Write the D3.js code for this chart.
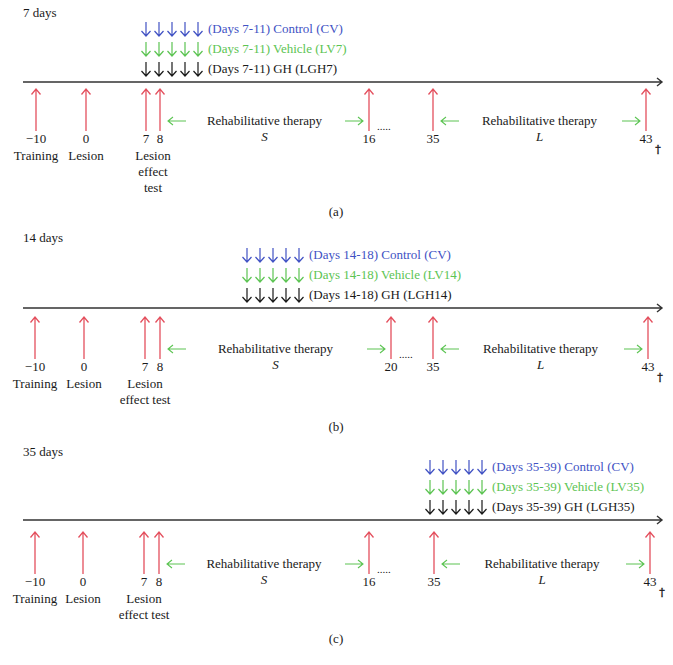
<!DOCTYPE html>
<html>
<head>
<meta charset="utf-8">
<script src="https://cdn.jsdelivr.net/npm/d3@7"></script>
<style>
  body { margin: 0; background: #fff; }
  text { font-family: "Liberation Serif", "DejaVu Serif", serif; font-size: 13px; }
</style>
</head>
<body>
<div id="chart"></div>
<script>
// Timeline data, one entry per panel
const panelTitles = ["7 days", "14 days", "35 days"]
const panelLetters = ["(a)", "(b)", "(c)"]
const eventDays = [
  [-10, 0, 7, 8, 16, 35, 43],
  [-10, 0, 7, 8, 20, 35, 43],
  [-10, 0, 7, 8, 16, 35, 43],
]
const eventNames = ["Training", "Lesion"]
const effectTestLines = [["Lesion", "effect", "test"], ["Lesion", "effect test"], ["Lesion", "effect test"]]
const effectTestDay = [7.5, 7, 7]
const doseDays = [
  [7, 8, 9, 10, 11],
  [14, 15, 16, 17, 18],
  [35, 36, 37, 38, 39],
]
const doseRanges = ["7-11", "14-18", "35-39"]
const groupNames = [
  ["Control (CV)", "Vehicle (LV7)", "GH (LGH7)"],
  ["Control (CV)", "Vehicle (LV14)", "GH (LGH14)"],
  ["Control (CV)", "Vehicle (LV35)", "GH (LGH35)"],
]
const therapyNames = ["S", "L"]
const therapySpans = [
  [[8, 16], [35, 43]],
  [[8, 20], [35, 43]],
  [[8, 16], [35, 43]],
]

// Layout (pixels)
const width = 673,
  height = 665
const red = "#e4505e",
  green = "#5cc452",
  blue = "#4152c4",
  ink = "#1a1a1a"
const groupColors = [blue, green, ink]
const axisY = [82, 308, 520]
const markTop = [89, 317, 532]
const titleY = [17, 242, 456]
const letterY = [216, 431, 643]
const slotX = [
  [36, 86, 146, 160, 369, 433, 646],
  [35, 84, 145, 160, 391, 433, 648],
  [35, 83, 144, 159, 369, 434, 650],
]
const doseX0 = [146, 247, 430]
const rowOffsets = [-49, -29, -9]

const svg = d3.select("#chart").append("svg").attr("width", width).attr("height", height)

// open chevron arrow helpers
function upArrow(g, x, y1, y2, color, w, h) {
  g.append("path")
    .attr("d", `M${x},${y2}V${y1}M${x - w},${y1 + h}L${x},${y1}L${x + w},${y1 + h}`)
    .attr("fill", "none")
    .attr("stroke", color)
    .attr("stroke-width", 1.3)
}

function downArrow(g, x, y1, y2, color) {
  g.append("path")
    .attr("d", `M${x},${y1}V${y2}M${x - 4.5},${y2 - 5}L${x},${y2}L${x + 4.5},${y2 - 5}`)
    .attr("fill", "none")
    .attr("stroke", color)
    .attr("stroke-width", 1.2)
}

function hArrow(g, x1, x2, y, color, sw) {
  const dir = x2 > x1 ? -1 : 1
  g.append("path")
    .attr("d", `M${x1},${y}H${x2}M${x2 + dir * 5},${y - 4}L${x2},${y}L${x2 + dir * 5},${y + 4}`)
    .attr("fill", "none")
    .attr("stroke", color)
    .attr("stroke-width", sw || 1.1)
}

panelTitles.forEach((title, p) => drawPanel(p))

function drawPanel(p) {
  const g = svg.append("g")
  const x = d3.scaleLinear().domain(eventDays[p]).range(slotX[p])
  const y0 = axisY[p],
    top = markTop[p]

  g.append("text").attr("x", 23).attr("y", titleY[p]).attr("fill", ink).text(panelTitles[p])
  g.append("text")
    .attr("x", 336)
    .attr("y", letterY[p])
    .attr("text-anchor", "middle")
    .attr("fill", ink)
    .text(panelLetters[p])

  // main time axis
  hArrow(g, 23, 662, y0, "#333", 1.4)

  // dosing rows
  const dx = d3
    .scaleLinear()
    .domain([doseDays[p][0], doseDays[p][4]])
    .range([doseX0[p], doseX0[p] + 52])
  groupNames[p].forEach((name, r) => {
    const base = y0 + rowOffsets[r]
    doseDays[p].forEach((d) => downArrow(g, dx(d), base - 11, base + 3, groupColors[r]))
    g.append("text")
      .attr("x", dx(doseDays[p][4]) + 10)
      .attr("y", base)
      .attr("fill", groupColors[r])
      .text(`(Days ${doseRanges[p]}) ${name}`)
  })

  // event markers
  eventDays[p].forEach((d) => {
    upArrow(g, x(d), top, top + 42, red, 4.5, 5.5)
    g.append("text")
      .attr("x", x(d))
      .attr("y", top + 54)
      .attr("text-anchor", "middle")
      .attr("fill", ink)
      .text(d < 0 ? "\u2212" + -d : d)
  })

  eventNames.forEach((name, i) => {
    g.append("text")
      .attr("x", x(eventDays[p][i]))
      .attr("y", top + 71)
      .attr("text-anchor", "middle")
      .attr("fill", ink)
      .text(name)
  })

  effectTestLines[p].forEach((line, i) => {
    g.append("text")
      .attr("x", x(effectTestDay[p]))
      .attr("y", top + 71 + i * 16)
      .attr("text-anchor", "middle")
      .attr("fill", ink)
      .text(line)
  })

  // dots after the end of therapy S
  g.append("text")
    .attr("x", x(therapySpans[p][0][1]) + 8)
    .attr("y", top + 41)
    .attr("fill", ink)
    .style("font-size", "11px")
    .text(".....")

  // dagger after last day
  g.append("text")
    .attr("x", x(43) + 12)
    .attr("y", top + 64)
    .attr("text-anchor", "middle")
    .attr("fill", ink)
    .attr("stroke", ink)
    .attr("stroke-width", 0.4)
    .style("font-family", "DejaVu Serif")
    .style("font-size", "11px")
    .text("\u2020")

  // rehabilitative therapy spans
  therapySpans[p].forEach((span, i) => {
    const a = x(span[0]),
      b = x(span[1]),
      mid = (a + b) / 2
    hArrow(g, a + 26, a + 8, top + 32, green)
    hArrow(g, b - 24, b - 6, top + 32, green)
    g.append("text")
      .attr("x", mid)
      .attr("y", top + 36)
      .attr("text-anchor", "middle")
      .attr("fill", ink)
      .text("Rehabilitative therapy")
    g.append("text")
      .attr("x", mid)
      .attr("y", top + 52)
      .attr("text-anchor", "middle")
      .attr("fill", ink)
      .style("font-style", "italic")
      .text(therapyNames[i])
  })
}
</script>
</body>
</html>
